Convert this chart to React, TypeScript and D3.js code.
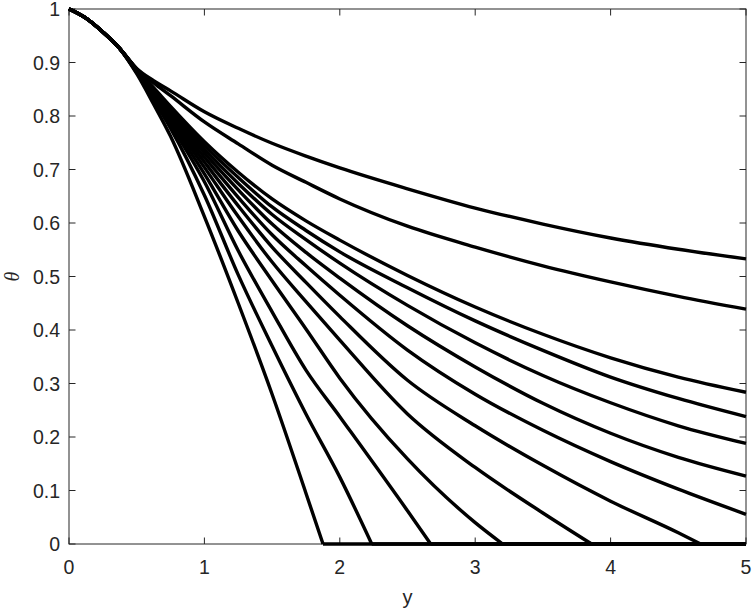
import React, { useEffect, useRef } from 'react';
import * as d3 from 'd3';

// sample positions along y
const yGrid = [0, 0.125, 0.25, 0.375, 0.5, 0.625, 0.75, 1, 1.25, 1.5, 1.75, 2, 2.5, 3, 3.5, 4, 4.5, 5];

// theta values (cut where the curve reaches zero)
const theta1 = [1, 0.983, 0.957, 0.926, 0.889, 0.866, 0.847, 0.808, 0.777, 0.749, 0.725, 0.703, 0.664, 0.628, 0.598, 0.572, 0.551, 0.533];
const theta2 = [1, 0.983, 0.957, 0.926, 0.888, 0.862, 0.838, 0.789, 0.748, 0.708, 0.676, 0.645, 0.594, 0.555, 0.52, 0.49, 0.463, 0.439];
const theta3 = [1, 0.983, 0.957, 0.926, 0.887, 0.853, 0.818, 0.752, 0.695, 0.645, 0.604, 0.568, 0.502, 0.443, 0.392, 0.348, 0.312, 0.2836];
const theta4 = [1, 0.983, 0.957, 0.926, 0.887, 0.851, 0.814, 0.745, 0.685, 0.63, 0.586, 0.546, 0.479, 0.417, 0.362, 0.312, 0.272, 0.238];
const theta5 = [1, 0.983, 0.957, 0.926, 0.886, 0.849, 0.81, 0.738, 0.674, 0.616, 0.569, 0.525, 0.446, 0.376, 0.315, 0.264, 0.221, 0.188];
const theta6 = [1, 0.983, 0.957, 0.926, 0.886, 0.847, 0.806, 0.731, 0.662, 0.598, 0.545, 0.497, 0.408, 0.331, 0.263, 0.207, 0.162, 0.127];
const theta7 = [1, 0.983, 0.957, 0.926, 0.885, 0.845, 0.802, 0.723, 0.648, 0.578, 0.52, 0.465, 0.3625, 0.28, 0.2125, 0.154, 0.1025, 0.0555];
const theta8 = [1, 0.983, 0.957, 0.926, 0.885, 0.843, 0.798, 0.714, 0.632, 0.555, 0.489, 0.425, 0.306, 0.221, 0.147, 0.08, 0.021];
const theta9 = [1, 0.983, 0.957, 0.926, 0.884, 0.84, 0.794, 0.704, 0.612, 0.527, 0.453, 0.381, 0.243, 0.143, 0.058];
const theta10 = [1, 0.983, 0.957, 0.926, 0.883, 0.837, 0.789, 0.692, 0.585, 0.492, 0.402, 0.31, 0.159, 0.04];
const theta11 = [1, 0.983, 0.957, 0.926, 0.882, 0.834, 0.784, 0.677, 0.548, 0.434, 0.325, 0.238, 0.062];
const theta12 = [1, 0.983, 0.957, 0.926, 0.881, 0.83, 0.777, 0.652, 0.503, 0.37, 0.243, 0.125];
const theta13 = [1, 0.983, 0.957, 0.926, 0.879, 0.822, 0.762, 0.612, 0.45, 0.28, 0.095];

// where each curve hits theta = 0 (null: stays positive)
const zeroAt = [null, null, null, null, null, null, null, 4.665, 3.86, 3.203, 2.671, 2.236, 1.876];

const xTicks = [0, 1, 2, 3, 4, 5];
const yTicks = [0, 0.1, 0.2, 0.3, 0.4, 0.5, 0.6, 0.7, 0.8, 0.9, 1];

const curves = [theta1, theta2, theta3, theta4, theta5, theta6, theta7, theta8, theta9, theta10, theta11, theta12, theta13];

const App = () => {
    const svgRef = useRef<SVGSVGElement>(null);

    useEffect(() => {
        const W = 754, H = 612;
        const margin = { top: 9, right: 8, bottom: 68, left: 69 };
        const width = W - margin.left - margin.right;
        const height = H - margin.top - margin.bottom;
        const axisColor = '#262626';
        const font = 'Liberation Sans, Arial, Helvetica, sans-serif';

        const svg = d3.select(svgRef.current);
        svg.selectAll('*').remove();

        const g = svg.append('g').attr('transform', `translate(${margin.left},${margin.top})`);

        const x = d3.scaleLinear().domain([0, 5]).range([0, width]);
        const y = d3.scaleLinear().domain([0, 1]).range([height, 0]);

        const tickLen = 6.5;

        // box
        g.append('rect')
            .attr('width', width).attr('height', height)
            .attr('fill', 'none').attr('stroke', axisColor).attr('stroke-width', 1);

        // x ticks, bottom and top, pointing inward
        xTicks.forEach(t => {
            const px = x(t);
            g.append('line').attr('x1', px).attr('x2', px).attr('y1', height).attr('y2', height - tickLen)
                .attr('stroke', axisColor);
            g.append('line').attr('x1', px).attr('x2', px).attr('y1', 0).attr('y2', tickLen)
                .attr('stroke', axisColor);
            g.append('text').attr('x', px).attr('y', height + 30)
                .attr('text-anchor', 'middle').attr('fill', axisColor)
                .style('font-family', font).style('font-size', '19.5px')
                .text(t);
        });

        // y ticks, left and right
        yTicks.forEach(t => {
            const py = y(t);
            g.append('line').attr('x1', 0).attr('x2', tickLen).attr('y1', py).attr('y2', py)
                .attr('stroke', axisColor);
            g.append('line').attr('x1', width).attr('x2', width - tickLen).attr('y1', py).attr('y2', py)
                .attr('stroke', axisColor);
            g.append('text').attr('x', -9).attr('y', py + 7)
                .attr('text-anchor', 'end').attr('fill', axisColor)
                .style('font-family', font).style('font-size', '19.5px')
                .text(t);
        });

        // axis labels
        g.append('text').attr('x', width / 2).attr('y', height + 60)
            .attr('text-anchor', 'middle').attr('fill', axisColor)
            .style('font-family', font).style('font-size', '20px')
            .text('y');
        g.append('text')
            .attr('transform', `translate(${-50},${height / 2}) rotate(-90)`)
            .attr('text-anchor', 'middle').attr('fill', axisColor)
            .style('font-family', 'Liberation Serif, Times New Roman, serif')
            .style('font-style', 'italic').style('font-size', '20px')
            .text('θ');

        const line = d3.line<[number, number]>()
            .x(d => x(d[0]))
            .y(d => y(d[1]))
            .curve(d3.curveMonotoneX);
        const flat = d3.line<[number, number]>()
            .x(d => x(d[0]))
            .y(d => y(d[1]));

        curves.forEach((vals, i) => {
            const pts: [number, number][] = vals.map((v, j) => [yGrid[j], v]);
            const z = zeroAt[i];
            if (z != null) pts.push([z, 0]);
            g.append('path')
                .attr('d', line(pts))
                .attr('fill', 'none').attr('stroke', '#000').attr('stroke-width', 3.4)
                .attr('stroke-linejoin', 'round');
            if (z != null) {
                g.append('path')
                    .attr('d', flat([[z, 0], [5, 0]]))
                    .attr('fill', 'none').attr('stroke', '#000').attr('stroke-width', 3.4);
            }
        });
    }, []);

    return (
        <svg ref={svgRef} width={754} height={612}
            style={{ position: 'absolute', left: 0, top: 0, background: '#fff' }} />
    );
};

export default App;
